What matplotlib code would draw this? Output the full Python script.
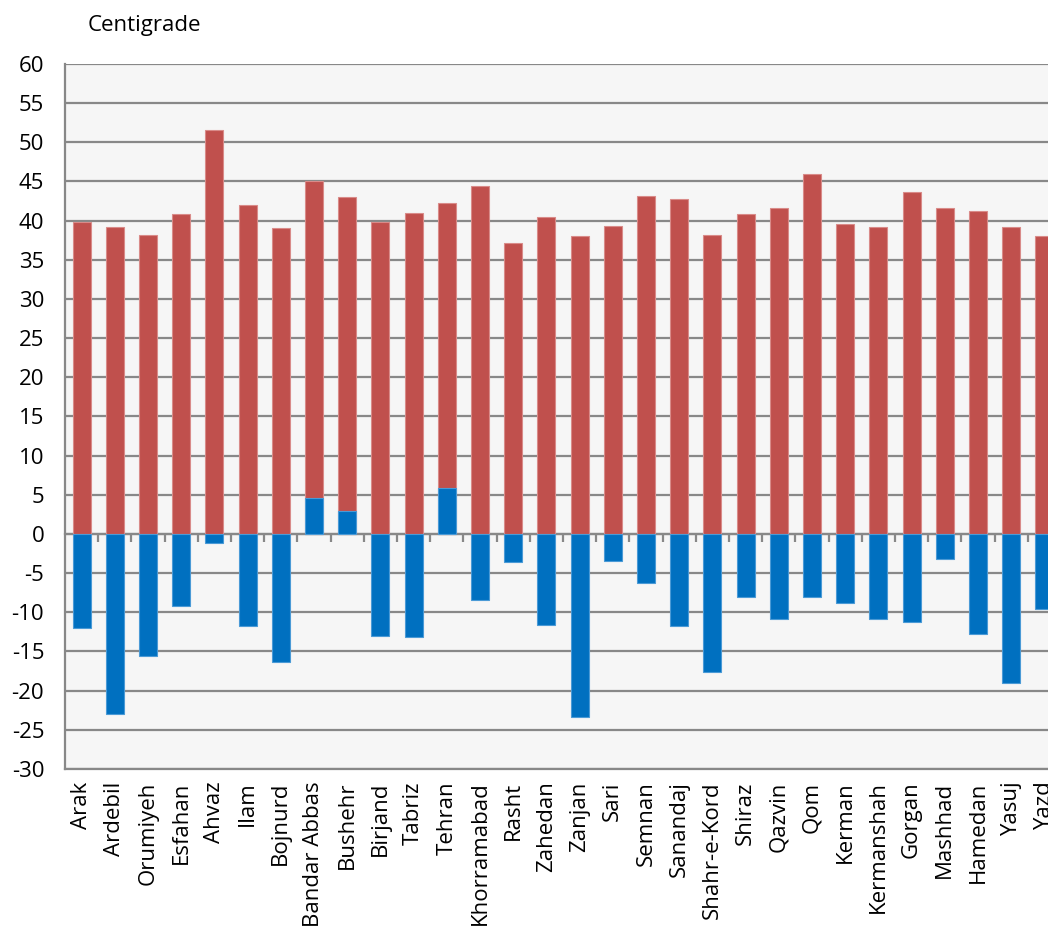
import matplotlib
matplotlib.use("Agg")
import matplotlib.pyplot as plt
import numpy as np

cities = ["Arak", "Ardebil", "Orumiyeh", "Esfahan", "Ahvaz", "Ilam", "Bojnurd",
          "Bandar Abbas", "Bushehr", "Birjand", "Tabriz", "Tehran", "Khorramabad",
          "Rasht", "Zahedan", "Zanjan", "Sari", "Semnan", "Sanandaj", "Shahr-e-Kord",
          "Shiraz", "Qazvin", "Qom", "Kerman", "Kermanshah", "Gorgan", "Mashhad",
          "Hamedan", "Yasuj", "Yazd"]
max_temp = [39.8, 39.2, 38.2, 40.8, 51.6, 42.0, 39.0, 45.0, 43.0, 39.8, 41.0, 42.2,
            44.4, 37.2, 40.5, 38.0, 39.3, 43.2, 42.7, 38.2, 40.8, 41.6, 46.0, 39.6,
            39.2, 43.6, 41.6, 41.2, 39.2, 38.0]
min_temp = [-12.0, -23.0, -15.6, -9.2, -1.2, -11.8, -16.4, 4.6, 2.9, -13.0, -13.2, 5.9,
            -8.4, -3.6, -11.6, -23.4, -3.4, -6.2, -11.8, -17.6, -8.1, -10.9, -8.0, -8.8,
            -10.8, -11.2, -3.2, -12.8, -19.0, -9.6]
yticks = list(range(-30, 61, 5))

plt.rcParams['font.family'] = ['Open Sans', 'DejaVu Sans']
FS = 16

fig = plt.figure(figsize=(10.48, 9.34), dpi=100)
ax = fig.add_axes([0.062, 0.1767, 0.9504, 0.7548])
ax.set_facecolor('#f6f6f6')

x = np.arange(len(cities))
w = 0.54
ax.bar(x, max_temp, width=w, color='#C0504D', edgecolor='#d98b89', linewidth=0.8, zorder=3)
ax.bar(x, min_temp, width=w, color='#0070C0', edgecolor='#4a9ad6', linewidth=0.8, zorder=4)

ax.set_xlim(-0.5, len(cities) - 0.5)
ax.set_ylim(-30, 60)
ax.set_yticks(yticks)
ax.set_yticklabels([str(v) for v in yticks], fontsize=FS)
ax.yaxis.grid(True, color='#888888', linewidth=1.6, zorder=1)
ax.set_axisbelow(True)
ax.tick_params(axis='y', length=0, pad=15)

ax.set_xticks(x)
ax.set_xticklabels(cities, rotation=90, fontsize=FS, va='top', ha='center')
ax.tick_params(axis='x', length=0, pad=9)

for s in ['top', 'right']:
    ax.spines[s].set_visible(False)
for s in ['left', 'bottom']:
    ax.spines[s].set_color('#888888')
    ax.spines[s].set_linewidth(1.6)

# category axis at zero with boundary tick marks
sec = ax.secondary_xaxis(1/3)
sec.set_xticks(x[:-1] + 0.5)
sec.set_xticklabels([])
sec.tick_params(axis='x', direction='out', length=6, width=1.6, color='#888888')
sec.spines['bottom'].set_color('#888888')
sec.spines['bottom'].set_linewidth(1.6)

fig.text(0.084, 0.973, "Centigrade", fontsize=FS, ha='left', va='center')

fig.savefig("out.png", dpi=100)
